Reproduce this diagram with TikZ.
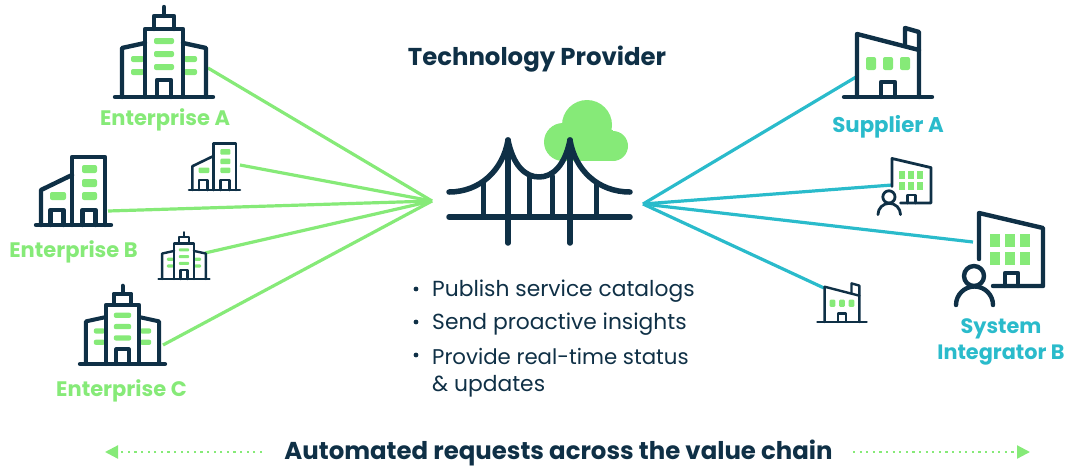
\documentclass[tikz,border=0pt]{standalone}
\usepackage{fontspec}
\setmainfont{Poppins}
\usetikzlibrary{positioning}
\usetikzlibrary{arrows.meta}
\definecolor{navy}{HTML}{0F3046}
\definecolor{leaf}{HTML}{86EA78}
\definecolor{teal}{HTML}{2ABBCB}
\tikzset{
  outline/.style={draw=navy,line width=4.4pt,line cap=round,line join=round},
  window/.style={fill=leaf,rounded corners=2pt},
  greenlabel/.style={text=leaf,font=\fontsize{21}{24}\selectfont\bfseries},
  teallabel/.style={text=teal,font=\fontsize{21.3}{26}\selectfont\bfseries,align=center},
  titlelabel/.style={text=navy,font=\fontsize{24.4}{28}\selectfont\bfseries},
  bullettext/.style={text=navy,anchor=west,inner sep=0pt,font=\fontsize{21.8}{24}\selectfont},
  greenline/.style={draw=leaf,line width=3.2pt},
  tealline/.style={draw=teal,line width=3.2pt},
  dotline/.style={draw=leaf,line width=2.2pt,dash pattern=on 2.2pt off 4.4pt,-{Triangle[length=13pt,width=13pt]}},
  tower/.pic={
    \foreach \y in {-56,-43,-30} \fill[window] (-10,\y-3) rectangle (10,\y+3);
    \foreach \y in {-38,-25} {
      \fill[window] (-33,\y-3) rectangle (-20,\y+3);
      \fill[window] (20,\y-3) rectangle (33,\y+3);
    }
    \path[outline] (-49,0) -- (49,0);
    \path[outline] (-19,0) -- (-19,-68) -- (19,-68) -- (19,0);
    \path[outline] (-10,-68) -- (-10,-81) -- (10,-81) -- (10,-68);
    \path[outline] (0,-81) -- (0,-90);
    \path[outline] (-19,-54) -- (-42,-49) -- (-42,0);
    \path[outline] (19,-54) -- (42,-49) -- (42,0);
    \path[outline] (-7,0) -- (-7,-17) -- (7,-17) -- (7,0);
  },
  annex/.pic={
    \foreach \y in {-56,-42,-29} \fill[window] (8.5,\y-4) rectangle (23.5,\y+4);
    \fill[window] (-23.5,-33) rectangle (-7.5,-25);
    \path[outline] (-37.5,0) -- (37.5,0);
    \path[outline] (-1.5,0) -- (-1.5,-68) -- (31.5,-68) -- (31.5,0);
    \path[outline] (-1.5,-50) -- (-32.5,-35) -- (-32.5,0);
    \path[outline] (-23,0) -- (-23,-15) -- (-10,-15) -- (-10,0);
    \path[outline] (9,0) -- (9,-15) -- (22,-15) -- (22,0);
  },
  factory/.pic={
    \foreach \x in {-22,-5,12} \fill[window] (\x,-40) rectangle (\x+10,-27);
    \path[outline] (-44,0) -- (44,0);
    \path[outline] (-31,0) -- (-31,-63) -- (31,-47) -- (31,0);
    \path[outline] (17,-51) -- (17,-69) -- (31,-65) -- (31,-47);
    \path[outline] (-7,0) -- (-7,-15) -- (7,-15) -- (7,0);
  },
  integrator/.pic={
    \foreach \x in {-21,-6,9} \foreach \y in {-52,-34}
      \fill[leaf] (\x,\y) rectangle (\x+10,\y+13);
    \path[outline] (-32,-27) -- (-32,-73) -- (32,-58) -- (32,0) -- (-18,0);
    \path[outline] (-6,0) -- (-6,-13) -- (7,-13) -- (7,0);
    \path[outline] (-37,-10) circle (10);
    \path[outline] (-55,19) arc (180:360:18.5);
  },
  deck/.style={outline,line width=5.5pt},
}

\begin{document}
\begin{tikzpicture}[x=1pt,y=-1pt]
  \useasboundingbox (0,0) rectangle (1067,467);

  % connector ends
  \coordinate (hubL) at (432,201);
  \coordinate (hubR) at (643,204);
  \coordinate (entA) at (208,68);
  \coordinate (entAs) at (240,165);
  \coordinate (entB) at (108,211);
  \coordinate (entBs) at (205,253);
  \coordinate (entC) at (163,345);
  \coordinate (supA) at (856,77);
  \coordinate (supAs) at (892,185);
  \coordinate (sysB) at (973,242);
  \coordinate (sysBs) at (824,288);

  \foreach \e in {entA,entAs,entB,entBs,entC} \draw[greenline] (\e) -- (hubL);
  \foreach \e in {supA,supAs,sysB,sysBs} \draw[tealline] (\e) -- (hubR);

  % buildings
  \pic at (164,97) {tower};
  \pic[scale=.87,outline/.append style={line width=4pt}] at (122.5,364) {tower};
  \pic[scale=.52,outline/.append style={line width=2.4pt},window/.append style={rounded corners=1pt}] at (184,279) {tower};
  \pic at (73.5,225) {annex};
  \pic[scale=.68,outline/.append style={line width=2.6pt},window/.append style={rounded corners=1pt}] at (214.5,190) {annex};
  \pic at (888,97) {factory};
  \pic[scale=.56,outline/.append style={line width=2.4pt},window/.append style={rounded corners=1pt}] at (842,322) {factory};
  \pic at (1011,286) {integrator};
  \pic[scale=.61,outline/.append style={line width=2.8pt}] at (911.5,203) {integrator};

  % cloud and bridge
  \fill[leaf] (587,125) circle (25);
  \fill[leaf] (563,142) circle (19);
  \fill[leaf] (613,146) circle (15);
  \fill[leaf] (563,130) rectangle (613,161);
  \path[deck] (449,217) -- (630,217);
  \foreach \x in {508,570} \path[deck] (\x,140) -- (\x,243);
  \path[deck] (449,192) .. controls (480,192) and (503,170) .. (508,140)
    .. controls (513,165) and (525,177) .. (539,177)
    .. controls (553,177) and (565,165) .. (570,140)
    .. controls (575,170) and (598,192) .. (630,192);
  \foreach \x/\y in {483/183,529/176,552/176,596/183} \path[deck,line width=5pt] (\x,\y) -- (\x,217);

  % labels
  \node[titlelabel] (provider) at (537,59) {Technology Provider};
  \node[greenlabel] (labelA) at (165,120) {Enterprise A};
  \node[greenlabel] (labelB) at (73.5,252) {Enterprise B};
  \node[greenlabel] (labelC) at (121.5,391) {Enterprise C};
  \node[teallabel] (labelS) at (888,127) {Supplier A};
  \node[teallabel,font=\fontsize{20.8}{26}\selectfont\bfseries] (labelI) at (1001,341.5) {System\\Integrator B};

  \node[bullettext] (item1) at (432,291) {Publish service catalogs};
  \node[bullettext] (item2) at (432,324) {Send proactive insights};
  \node[bullettext,font=\fontsize{21.3}{24}\selectfont] (item3) at (432,356) {Provide real-time status};
  \node[bullettext] (item4) at (432,386) {\& updates};
  \foreach \i in {289,322,355} \fill[navy] (416,\i) circle (2.4);

  % bottom line
  \node[titlelabel] (chain) at (558.5,453) {Automated requests across the value chain};
  \coordinate (arrowLa) at (262,452);
  \coordinate (arrowLb) at (105,452);
  \coordinate (arrowRa) at (853,452);
  \coordinate (arrowRb) at (1030,452);
  \draw[dotline] (arrowLa) -- (arrowLb);
  \draw[dotline] (arrowRa) -- (arrowRb);
\end{tikzpicture}
\end{document}
